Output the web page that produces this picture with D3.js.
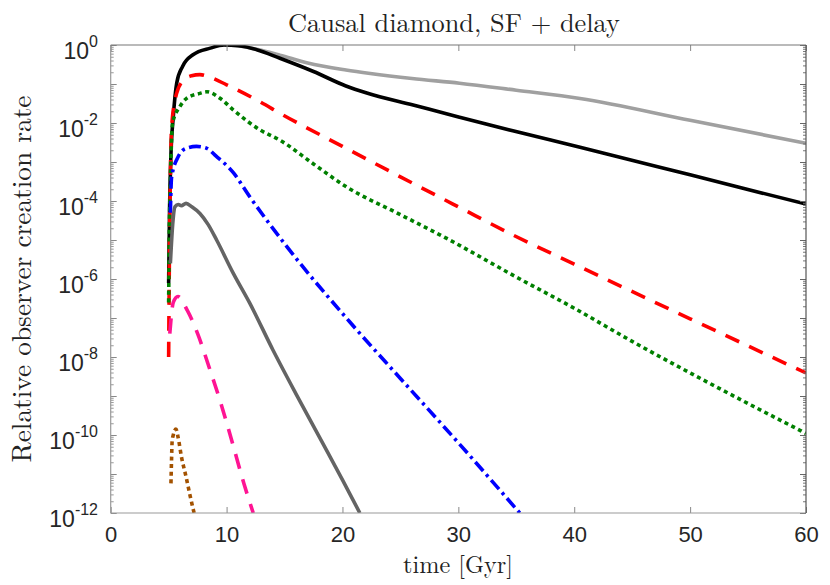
<!DOCTYPE html>
<html>
<head>
<meta charset="utf-8">
<script src="https://cdn.jsdelivr.net/npm/d3@7"></script>
<style>
  html, body { margin: 0; padding: 0; background: #fff; }
  svg { display: block; }
</style>
</head>
<body>
<div id="chart"></div>
<script>
// series as [time in Gyr, log10 of relative rate]
const lightGray = [[9.8, 0], [11, -0.02], [12.6, -0.11], [14.6, -0.26], [17, -0.46], [20.3, -0.64],
  [22.4, -0.73], [26, -0.86], [30.1, -0.98], [35, -1.16], [40.5, -1.37], [50, -1.93], [60, -2.52]];
const black = [[5.0, -6.1], [5.08, -4.2], [5.2, -2.8], [5.4, -1.84], [5.7, -0.97], [6.2, -0.55],
  [7.1, -0.25], [8.6, -0.08], [9.8, 0], [11, -0.02], [12.6, -0.12], [14.6, -0.34], [17.5, -0.68],
  [20.3, -1.05], [22.1, -1.23], [26.1, -1.54], [30.1, -1.85], [34.7, -2.2], [40.5, -2.62],
  [50, -3.33], [60, -4.08]];
const red = [[5.0, -8.0], [5.05, -6], [5.12, -4], [5.26, -2.09], [5.69, -1.24], [6.3, -0.9],
  [6.98, -0.79], [7.7, -0.76], [8.5, -0.82], [10, -1.02], [12.6, -1.41], [14.9, -1.8], [20, -2.6],
  [25, -3.38], [30, -4.15], [34.7, -4.87], [40, -5.62], [50, -7.02], [60, -8.41]];
const green = [[5.0, -6.6], [5.05, -5], [5.15, -3.5], [5.34, -2.0], [5.97, -1.58], [6.55, -1.37],
  [7.7, -1.24], [8.3, -1.2], [9.5, -1.38], [10.6, -1.67], [12.9, -2.18], [14.6, -2.44], [17.5, -3.05],
  [20.3, -3.63], [25, -4.35], [29, -4.96], [35, -5.95], [40, -6.75], [45, -7.6], [51.4, -8.63],
  [60, -9.96]];
const blue = [[5.15, -4.3], [5.25, -3.4], [5.83, -2.86], [6.5, -2.65], [7.4, -2.6], [8.3, -2.65],
  [9.1, -2.85], [10.6, -3.28], [12, -3.89], [15.2, -5.17], [20.6, -7.09], [25, -8.55], [30, -10.2],
  [35.3, -12]];
const darkGray = [[5.15, -5.6], [5.35, -4.6], [5.54, -4.15], [5.83, -4.09], [6.1, -4.12], [6.5, -4.06],
  [7.0, -4.15], [7.7, -4.32], [8.4, -4.6], [9.14, -5.0], [10.57, -5.85], [12, -6.62], [14, -7.82],
  [16, -8.95], [18, -10.05], [20, -11.15], [21.5, -12]];
const magenta = [[5.1, -7.4], [5.4, -6.6], [5.8, -6.45], [6.6, -6.8], [7.5, -7.4], [8.5, -8.27],
  [9.5, -9.18], [10.5, -10.2], [11.5, -11.25], [12.3, -12]];
const brown = [[5.2, -11.24], [5.25, -10.64], [5.3, -10.17], [5.4, -10.0], [5.63, -9.85], [5.83, -10.08],
  [6.1, -10.55], [6.5, -11.07], [6.84, -11.54], [7.1, -11.88], [7.2, -12]];

const xTicks = [0, 10, 20, 30, 40, 50, 60];
const yDecades = [0, -1, -2, -3, -4, -5, -6, -7, -8, -9, -10, -11, -12];
const yLabelled = [0, -2, -4, -6, -8, -10, -12];

const titleText = "Causal diamond, SF + delay";
const xTitle = "time [Gyr]";
const yTitle = "Relative observer creation rate";

const W = 830, H = 585;
const L = 110.7, R = 806, T = 45, B = 513;

let series = [
  {data: lightGray, color: "#a0a0a0", dash: null},
  {data: black, color: "#000000", dash: null},
  {data: red, color: "#ff0000", dash: "15,11"},
  {data: green, color: "#008000", dash: "4,3.6"},
  {data: blue, color: "#0000ff", dash: "12,4.5,3,4.5"},
  {data: darkGray, color: "#646464", dash: null},
  {data: magenta, color: "#ff1493", dash: "15,11"},
  {data: brown, color: "#a35200", dash: "4,3.6"}
];

let svg = d3.select("#chart").append("svg")
  .attr("width", W).attr("height", H)
  .style("font-family", "'Liberation Sans', Arial, sans-serif");

let x = d3.scaleLinear().domain([0, 60]).range([L, R]),
  y = d3.scaleLog().domain([1e-12, 1]).range([B, T]);

svg.append("defs").append("clipPath").attr("id", "plotclip")
  .append("rect").attr("x", L).attr("y", T).attr("width", R - L).attr("height", B - T);

let line = d3.line()
  .curve(d3.curveMonotoneX)
  .x(d => x(d[0]))
  .y(d => y(Math.pow(10, d[1])));

let plot = svg.append("g").attr("clip-path", "url(#plotclip)");
series.forEach(s => {
  plot.append("path")
    .datum(s.data)
    .attr("d", line)
    .attr("fill", "none")
    .attr("stroke", s.color)
    .attr("stroke-width", 3.6)
    .attr("stroke-linejoin", "round")
    .attr("stroke-dasharray", s.dash);
});

// minor ticks for log axis
let minors = [];
yDecades.slice(1).forEach(e => {
  for (let m = 2; m <= 9; m++) minors.push(m * Math.pow(10, e));
});
let majors = yDecades.map(e => Math.pow(10, e));

function styleAxis(g, col) {
  g.select(".domain").remove();
  g.selectAll(".tick line").attr("stroke", col).attr("stroke-width", 1);
}

// bottom
svg.append("g").attr("transform", `translate(0,${B})`)
  .call(d3.axisBottom(x).tickValues(xTicks).tickSize(-6).tickPadding(13).tickFormat(d3.format("d")))
  .call(g => {
    styleAxis(g, "#888");
    g.selectAll("text").attr("font-size", 22).attr("fill", "#262626")
      .attr("font-family", "'Liberation Sans', Arial, sans-serif");
  });
// top
svg.append("g").attr("transform", `translate(0,${T})`)
  .call(d3.axisTop(x).tickValues(xTicks).tickSize(-6).tickFormat(""))
  .call(g => styleAxis(g, "#888"));

// left majors + minors
svg.append("g").attr("transform", `translate(${L},0)`)
  .call(d3.axisLeft(y).tickValues(majors).tickSize(-6).tickFormat(""))
  .call(g => styleAxis(g, "#888"));
svg.append("g").attr("transform", `translate(${L},0)`)
  .call(d3.axisLeft(y).tickValues(minors).tickSize(-3).tickFormat(""))
  .call(g => styleAxis(g, "#999"));
// right
svg.append("g").attr("transform", `translate(${R},0)`)
  .call(d3.axisRight(y).tickValues(majors).tickSize(-6).tickFormat(""))
  .call(g => styleAxis(g, "#666"));
svg.append("g").attr("transform", `translate(${R},0)`)
  .call(d3.axisRight(y).tickValues(minors).tickSize(-3).tickFormat(""))
  .call(g => styleAxis(g, "#777"));

// y tick labels 10^n
let yl = svg.append("g").attr("fill", "#262626");
yLabelled.forEach(e => {
  let t = yl.append("text")
    .attr("x", 98)
    .attr("y", y(Math.pow(10, e)) + 14)
    .attr("text-anchor", "end")
    .attr("font-size", 23);
  t.append("tspan").text("10");
  t.append("tspan").attr("dy", -12).attr("font-size", 16).text(e);
});

// frame
svg.append("line").attr("x1", L).attr("x2", R).attr("y1", B).attr("y2", B).attr("stroke", "#999").attr("stroke-width", 1.2);
svg.append("line").attr("x1", L).attr("x2", L).attr("y1", T).attr("y2", B).attr("stroke", "#999").attr("stroke-width", 1.2);
svg.append("line").attr("x1", L).attr("x2", R).attr("y1", T).attr("y2", T).attr("stroke", "#777").attr("stroke-width", 1.2);
svg.append("line").attr("x1", R).attr("x2", R).attr("y1", T).attr("y2", B).attr("stroke", "#555").attr("stroke-width", 1.2);

// serif titles, sized to the widths in the picture
function fitText(sel, width) {
  let w = sel.node().getComputedTextLength();
  let fs = parseFloat(sel.attr("font-size"));
  sel.attr("font-size", fs * width / w);
}
let serif = "'Latin Modern Roman', 'CMU Serif', 'Liberation Serif', 'Times New Roman', serif";
let title = svg.append("text")
  .attr("x", 454).attr("y", 32)
  .attr("text-anchor", "middle")
  .attr("font-family", serif).attr("font-size", 24).attr("fill", "#222")
  .text(titleText);
fitText(title, 332);

let xt = svg.append("text")
  .attr("x", 458).attr("y", 573)
  .attr("text-anchor", "middle")
  .attr("font-family", serif).attr("font-size", 22).attr("fill", "#222")
  .text(xTitle);
fitText(xt, 110);

let yt = svg.append("text")
  .attr("transform", "translate(31,279) rotate(-90)")
  .attr("text-anchor", "middle")
  .attr("font-family", serif).attr("font-size", 22).attr("fill", "#222")
  .text(yTitle);
fitText(yt, 367);
</script>
</body>
</html>
